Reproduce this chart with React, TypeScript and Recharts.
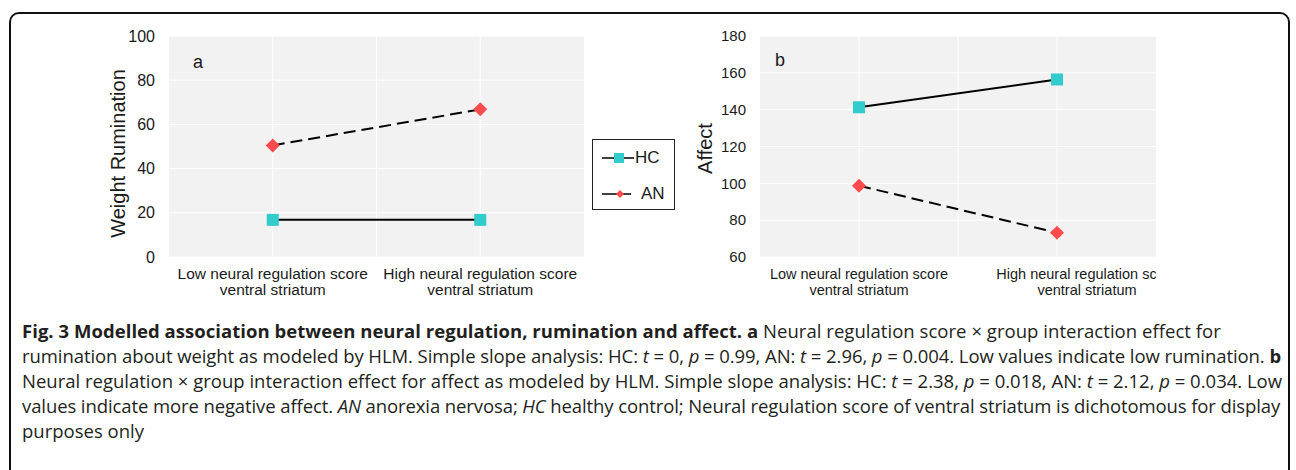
import React from 'react'
import {
  LineChart, Line, XAxis, YAxis, CartesianGrid,
} from 'recharts'

const categories = [
  'Low neural regulation score\nventral striatum',
  'High neural regulation score\nventral striatum',
]

// panel a: weight rumination
const ruminationHC = [16.8, 16.8]
const ruminationAN = [50.5, 66.8]
const ruminationTicks = [0, 20, 40, 60, 80, 100]

// panel b: affect
const affectHC = [141.3, 156.4]
const affectAN = [98.7, 73.2]
const affectTicks = [60, 80, 100, 120, 140, 160, 180]

const rumData = categories.map((c, i) => ({ cat: c, HC: ruminationHC[i], AN: ruminationAN[i] }))
const affData = categories.map((c, i) => ({ cat: c, HC: affectHC[i], AN: affectAN[i] }))

const CYAN = '#33CCCC'
const RED = '#FF4B4B'
const INK = '#1a1a1a'
const FONT = '"Liberation Sans", Arial, sans-serif'

function SquareDot(props: any) {
  const { cx, cy } = props
  if (cx == null || cy == null) return null
  return <rect x={cx - 6} y={cy - 6} width={12} height={12} fill={CYAN} />
}

function DiamondDot(props: any) {
  const { cx, cy } = props
  if (cx == null || cy == null) return null
  const r = 7
  return <polygon points={`${cx},${cy - r} ${cx + r},${cy} ${cx},${cy + r} ${cx - r},${cy}`} fill={RED} />
}

// two-line category label; in panel b the source pushes the last label to the right
function CatTick(props: any) {
  const { x, y, payload, index, fontSize = 15.5, lastDx = 0 } = props
  const lines = String(payload.value).split('\n')
  const tx = x + (index === categories.length - 1 ? lastDx : 0)
  return (
    <text x={tx} y={y} textAnchor="middle" fill={INK} fontSize={fontSize} fontFamily={FONT}>
      {lines.map((l, i) => (
        <tspan key={i} x={tx} dy={i === 0 ? 14 : 16}>{l}</tspan>
      ))}
    </text>
  )
}

function YLabel(props: any) {
  const { viewBox, value, inset = 18, dy = 0 } = props
  if (!viewBox) return null
  const cx = viewBox.x + inset
  const cy = viewBox.y + viewBox.height / 2 + dy
  return (
    <text x={cx} y={cy} transform={`rotate(-90 ${cx} ${cy})`} textAnchor="middle"
      dominantBaseline="central" fontSize={20} fill={INK} fontFamily={FONT}>
      {value}
    </text>
  )
}

// grid lines at band centres and at the boundary between the two bands
const vGrid = ({ offset }: any) => [1, 2, 3].map(k => offset.left + (offset.width * k) / 4)

function LegendBox() {
  return (
    <div style={{
      position: 'absolute', left: 592, top: 139,
      width: 81, height: 69, border: '1px solid #222', background: '#fff',
      fontFamily: FONT, fontSize: 17, color: INK,
    }}>
      <div style={{ display: 'flex', alignItems: 'center', height: 18, marginTop: 9, marginLeft: 9 }}>
        <svg width={32} height={18}>
          <line x1={0} y1={9} x2={32} y2={9} stroke="#000" strokeWidth={1.5} />
          <rect x={12} y={4} width={10} height={10} fill={CYAN} />
        </svg>
        <span style={{ marginLeft: 1 }}>HC</span>
      </div>
      <div style={{ display: 'flex', alignItems: 'center', height: 18, marginTop: 18, marginLeft: 9 }}>
        <svg width={32} height={18}>
          <line x1={0} y1={9} x2={29} y2={9} stroke="#000" strokeWidth={1.5} />
          <polygon points="18,5 22,9 18,13 14,9" fill={RED} />
        </svg>
        <span style={{ marginLeft: 7 }}>AN</span>
      </div>
    </div>
  )
}

export default function App() {
  return (
    <div style={{ position: 'absolute', left: 0, top: 0, width: 1296, height: 470, overflow: 'hidden', background: '#fff' }}>
      <div style={{
        position: 'absolute', left: 9, top: 12, width: 1277, height: 520,
        border: '2px solid #111', borderRadius: 10,
      }} />

      {/* panel a */}
      <div style={{ position: 'absolute', left: 100, top: 20 }}>
        <LineChart width={500} height={285} data={rumData} margin={{ top: 16, right: 16, bottom: 18, left: 14 }}>
          <CartesianGrid stroke="#fff" strokeWidth={1} fill="#F2F2F2" verticalCoordinatesGenerator={vGrid} />
          <XAxis dataKey="cat" scale="band" interval={0} axisLine={false} tickLine={false} tick={<CatTick />} />
          <YAxis
            domain={[0, 100]} ticks={ruminationTicks} width={55} axisLine={false} tickLine={false}
            tickSize={6} tickMargin={8} tick={{ fontSize: 16, fill: INK, fontFamily: FONT }}
            label={<YLabel value="Weight Rumination" inset={4} dy={7} />}
          />
          <Line dataKey="HC" stroke="#000" strokeWidth={2} dot={<SquareDot />} isAnimationActive={false} />
          <Line dataKey="AN" stroke="#000" strokeWidth={2} strokeDasharray="12 6" dot={<DiamondDot />} isAnimationActive={false} />
        </LineChart>
        <div style={{ position: 'absolute', left: 93, top: 32, fontFamily: FONT, fontSize: 18, color: INK }}>a</div>
      </div>

      <LegendBox />

      {/* panel b, cropped at the right edge of its plot */}
      <div style={{ position: 'absolute', left: 690, top: 20, width: 466, height: 285, overflow: 'hidden' }}>
        <LineChart width={466} height={285} data={affData} margin={{ top: 16, right: 0, bottom: 18, left: 0 }}>
          <CartesianGrid stroke="#fff" strokeWidth={1} fill="#F2F2F2" verticalCoordinatesGenerator={vGrid} />
          <XAxis dataKey="cat" scale="band" interval={0} axisLine={false} tickLine={false}
            tick={<CatTick fontSize={14.5} lastDx={30} />} />
          <YAxis
            domain={[60, 180]} ticks={affectTicks} width={70} axisLine={false} tickLine={false}
            tickSize={6} tickMargin={8} tick={{ fontSize: 15, fill: INK, fontFamily: FONT }}
            label={<YLabel value="Affect" inset={15} dy={2} />}
          />
          <Line dataKey="HC" stroke="#000" strokeWidth={2} dot={<SquareDot />} isAnimationActive={false} />
          <Line dataKey="AN" stroke="#000" strokeWidth={2} strokeDasharray="12 6" dot={<DiamondDot />} isAnimationActive={false} />
        </LineChart>
        <div style={{ position: 'absolute', left: 85, top: 30, fontFamily: FONT, fontSize: 18, color: INK }}>b</div>
      </div>

      {/* caption */}
      <div style={{
        position: 'absolute', left: 22, top: 318, fontFamily: '"Open Sans", "Noto Sans", sans-serif',
        fontSize: 18.5, lineHeight: '25px', color: '#231f20', whiteSpace: 'nowrap',
      }}>
        <div style={{ letterSpacing: 0.04 }}><b>Fig. 3 Modelled association between neural regulation, rumination and affect. a</b> Neural regulation score × group interaction effect for</div>
        <div style={{ letterSpacing: -0.07 }}>rumination about weight as modeled by HLM. Simple slope analysis: HC: <i>t</i> = 0, <i>p</i> = 0.99, AN: <i>t</i> = 2.96, <i>p</i> = 0.004. Low values indicate low rumination. <b>b</b></div>
        <div>Neural regulation × group interaction effect for affect as modeled by HLM. Simple slope analysis: HC: <i>t</i> = 2.38, <i>p</i> = 0.018, AN: <i>t</i> = 2.12, <i>p</i> = 0.034. Low</div>
        <div style={{ letterSpacing: -0.1 }}>values indicate more negative affect. <i>AN</i> anorexia nervosa; <i>HC</i> healthy control; Neural regulation score of ventral striatum is dichotomous for display</div>
        <div>purposes only</div>
      </div>
    </div>
  )
}
